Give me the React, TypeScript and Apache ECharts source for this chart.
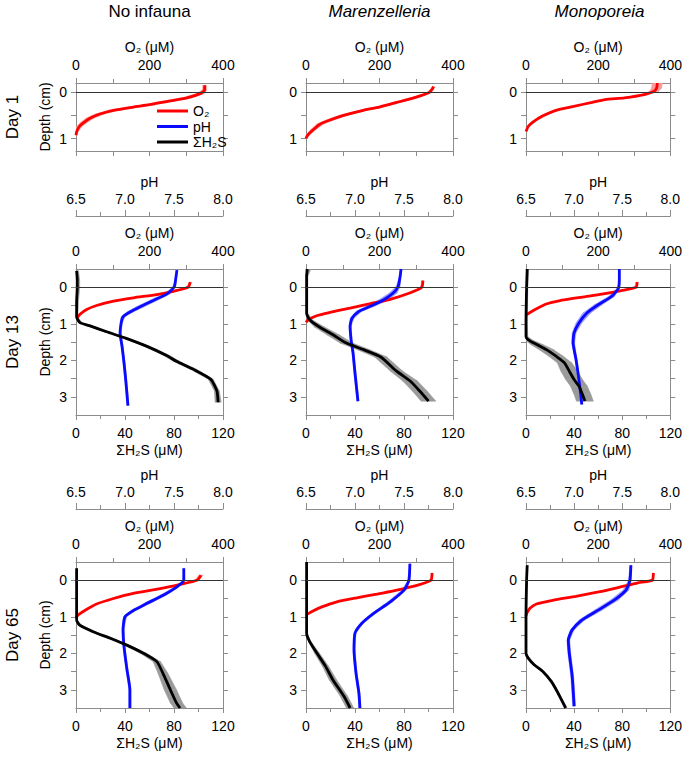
import React, { useEffect, useRef } from 'react';
import * as echarts from 'echarts';

// ---------- labels ----------
const columnTitles = ['No infauna', 'Marenzelleria', 'Monoporeia'];
const rowTitles = ['Day 1', 'Day 13', 'Day 65'];
const seriesNames = ['O₂', 'pH', 'ΣH₂S'];
const o2AxisName = 'O₂ (μM)';
const phAxisName = 'pH';
const h2sAxisName = 'ΣH₂S (μM)';
const depthAxisName = 'Depth (cm)';

// ---------- axis ranges / ticks ----------
const o2Range = [0, 400];
const phRange = [6.5, 8.0];
const h2sRange = [0, 120];
const depthRangeDay1 = [-0.2, 1.27];
const depthRangeLong = [-0.5, 3.5];
const depthTicksDay1 = [0, 0.5, 1];
const depthLabelsDay1 = [0, 1];
const depthTicksLong = [0, 0.5, 1, 1.5, 2, 2.5, 3];
const depthLabelsLong = [0, 1, 2, 3];

// ---------- profiles: [depth (cm), value, sd] ----------
// Day 1
const d1NoO2 = [[-0.15, 350, 5], [-0.05, 350, 6], [0.03, 338, 10], [0.12, 302, 13], [0.2, 247, 14], [0.27, 200, 14], [0.32, 156, 14], [0.39, 102, 13], [0.47, 65, 12], [0.56, 38, 11], [0.66, 20, 9], [0.74, 9, 7], [0.85, 2, 4], [0.93, 0, 2]];
const d1MarO2 = [[-0.12, 347, 4], [-0.06, 343, 4], [0.01, 334, 5], [0.1, 302, 8], [0.22, 247, 10], [0.32, 200, 10], [0.39, 156, 10], [0.5, 102, 10], [0.6, 65, 10], [0.69, 38, 9], [0.82, 18, 7], [0.93, 4, 5], [1.0, 0, 2]];
const d1MonO2 = [[-0.2, 364, 14], [-0.09, 362, 14], [-0.02, 355, 12], [0.05, 328, 9], [0.12, 273, 7], [0.16, 219, 7], [0.22, 183, 7], [0.31, 129, 7], [0.39, 83, 6], [0.51, 47, 6], [0.64, 20, 5], [0.74, 6, 3], [0.85, 0, 2]];

// Day 13
const d13NoO2 = [[-0.14, 311, 3], [0, 305, 4], [0.11, 265, 5], [0.2, 220, 5], [0.29, 156, 5], [0.38, 102, 5], [0.5, 56, 4], [0.61, 29, 4], [0.74, 11, 3], [0.86, 2, 2]];
const d13NoPH = [[-0.47, 7.53, 0.005], [-0.09, 7.51, 0.01], [0, 7.5, 0.015], [0.18, 7.43, 0.03], [0.36, 7.29, 0.04], [0.54, 7.15, 0.04], [0.68, 7.05, 0.03], [0.81, 6.98, 0.02], [0.99, 6.96, 0.01], [1.26, 6.95, 0.01], [1.62, 6.97, 0.01], [2.07, 6.99, 0.01], [2.61, 7.01, 0.01], [3.24, 7.03, 0.01]];
const d13NoH2S = [[-0.45, 0.5, 1.5], [-0.2, 1, 2], [0, 1, 2], [0.4, 0.5, 1.5], [0.81, 0.5, 1], [0.97, 3.3, 1.5], [1.06, 11.5, 2], [1.22, 25, 2], [1.4, 41, 2], [1.62, 58, 2], [1.87, 74, 2.5], [2.03, 82, 2.5], [2.25, 96, 2.5], [2.52, 110, 2], [2.84, 115, 2], [3.15, 116, 2.5]];
const d13MarO2 = [[-0.18, 318, 3], [0, 315, 3], [0.15, 284, 4], [0.33, 229, 4], [0.45, 175, 4], [0.57, 120, 4], [0.69, 65, 4], [0.78, 29, 3], [0.89, 6, 2], [0.96, 0, 1]];
const d13MarPH = [[-0.5, 7.47, 0.005], [-0.29, 7.46, 0.008], [-0.02, 7.44, 0.02], [0.16, 7.39, 0.04], [0.35, 7.29, 0.05], [0.53, 7.15, 0.04], [0.66, 7.04, 0.03], [0.85, 6.97, 0.02], [1.07, 6.95, 0.01], [1.44, 6.96, 0.01], [1.8, 6.98, 0.01], [2.35, 7.0, 0.01], [3.12, 7.03, 0.01]];
const d13MarH2S = [[-0.5, 1, 3], [-0.3, 0.5, 1], [0, 0.5, 1], [0.71, 0.5, 1], [0.89, 3, 2], [1.09, 11, 4], [1.3, 22, 5], [1.53, 33, 5], [1.71, 47, 5], [1.91, 61, 5], [2.3, 74, 5], [2.57, 85, 6], [2.85, 93, 6], [3.12, 100, 6]];
const d13MonO2 = [[-0.14, 308, 3], [0, 305, 3], [0.09, 264, 4], [0.19, 210, 4], [0.27, 156, 4], [0.37, 92, 4], [0.46, 56, 3], [0.59, 29, 3], [0.69, 11, 2], [0.75, 2, 1]];
const d13MonPH = [[-0.5, 7.47, 0.005], [-0.2, 7.47, 0.008], [0.03, 7.46, 0.01], [0.25, 7.39, 0.03], [0.48, 7.25, 0.04], [0.71, 7.13, 0.04], [0.98, 7.05, 0.03], [1.25, 7.0, 0.02], [1.53, 6.99, 0.015], [1.98, 7.02, 0.01], [2.53, 7.05, 0.01], [3.21, 7.08, 0.01]];
const d13MonH2S = [[-0.5, 1, 1], [0, 0.5, 1], [1.0, 0, 1], [1.35, 0, 1.5], [1.44, 2, 3], [1.57, 9, 5], [1.71, 17, 6], [1.89, 25, 6], [2.07, 32, 6], [2.3, 36, 7], [2.53, 40, 7], [2.71, 44, 7], [2.94, 47, 7], [3.12, 49, 7]];

// Day 65
const d65NoO2 = [[-0.14, 340, 6], [0, 329, 5], [0.11, 284, 4], [0.23, 229, 4], [0.36, 156, 4], [0.5, 102, 4], [0.65, 56, 3], [0.82, 25, 3], [0.95, 6, 2], [1.02, 0, 1]];
const d65NoPH = [[-0.33, 7.6, 0.005], [0, 7.6, 0.01], [0.18, 7.53, 0.02], [0.41, 7.39, 0.03], [0.64, 7.22, 0.03], [0.82, 7.09, 0.02], [1.0, 7.0, 0.015], [1.36, 6.98, 0.01], [1.82, 6.99, 0.01], [2.45, 7.02, 0.01], [3.0, 7.05, 0.01], [3.5, 7.05, 0.01]];
const d65NoH2S = [[-0.33, 0.5, 0.5], [0, 0.5, 0.5], [1.09, 0.5, 0.5], [1.23, 3, 1.5], [1.41, 14, 2], [1.59, 28, 2], [1.77, 41, 2], [2.0, 55, 2.5], [2.23, 66, 3], [2.55, 71, 4], [3.0, 77, 5], [3.36, 82, 5], [3.5, 85, 5]];
const d65MarO2 = [[-0.2, 343, 2], [0, 340, 2], [0.14, 302, 3], [0.27, 247, 3], [0.38, 193, 3], [0.48, 138, 3], [0.59, 84, 3], [0.73, 43, 3], [0.86, 15, 2], [0.95, 0, 1]];
const d65MarPH = [[-0.45, 7.56, 0.005], [0, 7.55, 0.01], [0.27, 7.5, 0.02], [0.59, 7.36, 0.025], [0.91, 7.19, 0.02], [1.18, 7.07, 0.015], [1.45, 7.0, 0.01], [1.9, 6.99, 0.01], [2.54, 7.01, 0.01], [3.09, 7.04, 0.01], [3.5, 7.05, 0.01]];
const d65MarH2S = [[-0.5, 0.5, 0.5], [0, 0.5, 0.5], [1.45, 0.5, 0.5], [1.68, 3, 1], [2.0, 9, 2], [2.36, 16, 2.5], [2.73, 22, 3], [3.18, 31, 3], [3.5, 36, 3]];
const d65MonO2 = [[-0.2, 353, 2], [0, 350, 2], [0.07, 310, 3], [0.2, 255, 3], [0.32, 201, 3], [0.44, 138, 3], [0.55, 74, 3], [0.65, 29, 3], [0.77, 11, 2], [0.91, 2, 1], [0.98, 0, 1]];
const d65MonPH = [[-0.41, 7.59, 0.01], [0, 7.58, 0.015], [0.27, 7.54, 0.03], [0.54, 7.42, 0.04], [0.82, 7.25, 0.04], [1.09, 7.08, 0.03], [1.36, 6.98, 0.02], [1.64, 6.94, 0.015], [2.0, 6.95, 0.015], [2.63, 6.98, 0.015], [3.45, 7.0, 0.015]];
const d65MonH2S = [[-0.41, 1, 0.5], [0, 0.5, 0.5], [1.0, 0, 0.5], [2.0, 0, 0.5], [2.14, 2, 1], [2.32, 7, 1], [2.5, 14, 1], [2.77, 21, 1], [3.05, 26, 1], [3.5, 33, 1]];

const panelData = [
  [{ o2: d1NoO2 }, { o2: d1MarO2 }, { o2: d1MonO2 }],
  [{ o2: d13NoO2, ph: d13NoPH, h2s: d13NoH2S }, { o2: d13MarO2, ph: d13MarPH, h2s: d13MarH2S }, { o2: d13MonO2, ph: d13MonPH, h2s: d13MonH2S }],
  [{ o2: d65NoO2, ph: d65NoPH, h2s: d65NoH2S }, { o2: d65MarO2, ph: d65MarPH, h2s: d65MarH2S }, { o2: d65MonO2, ph: d65MonPH, h2s: d65MonH2S }],
];

// ---------- layout / style ----------
const FONT = '"Liberation Sans", Arial, Helvetica, sans-serif';
const gridLeft = [76, 306, 526];
const gridTop = [83, 269, 562];
const gridHeight = [68, 146, 146];
const plotWidth = 147;
const AXIS_GRAY = '#8c8c8c';
const RED = '#ff0000';
const BLUE = '#0a0aff';
const BLACK = '#000000';
const RED_BAND = '#ff9a9a';
const BLUE_BAND = '#9a9aff';
const GRAY_BAND = '#9a9a9a';

const tickFont = { color: '#000', fontSize: 14, fontFamily: FONT };
const nameFont = { color: '#000', fontSize: 14, fontFamily: FONT };

function bandSeries(prof: number[][], xIdx: number, yIdx: number, fill: string) {
  return {
    type: 'custom',
    name: 'band',
    xAxisIndex: xIdx,
    yAxisIndex: yIdx,
    silent: true,
    clip: true,
    z: 1,
    data: prof.map((p) => [p[1], p[0], p[2]]),
    encode: { x: 0, y: 1 },
    renderItem: (params: any, api: any) => {
      const i = params.dataIndex;
      if (i >= prof.length - 1) return null;
      const a = prof[i];
      const b = prof[i + 1];
      const pts = [
        api.coord([a[1] - a[2], a[0]]),
        api.coord([b[1] - b[2], b[0]]),
        api.coord([b[1] + b[2], b[0]]),
        api.coord([a[1] + a[2], a[0]]),
      ];
      return { type: 'polygon', shape: { points: pts }, style: { fill, stroke: fill, lineWidth: 0.6 } };
    },
  };
}

function lineSeries(name: string, prof: number[][], xIdx: number, yIdx: number, color: string, zeroLine: boolean) {
  const s: any = {
    type: 'line',
    name,
    xAxisIndex: xIdx,
    yAxisIndex: yIdx,
    data: prof.map((p) => [p[1], p[0]]),
    showSymbol: false,
    symbol: 'none',
    smooth: 0.2,
    silent: true,
    z: 3,
    lineStyle: { width: 2.8, color },
    itemStyle: { color },
  };
  if (zeroLine) {
    s.markLine = {
      silent: true,
      symbol: 'none',
      label: { show: false },
      lineStyle: { color: '#333', width: 1, type: 'solid' },
      data: [{ yAxis: 0 }],
    };
  }
  return s;
}

function buildOption() {
  const grid: any[] = [];
  const xAxis: any[] = [];
  const yAxis: any[] = [];
  const series: any[] = [];

  panelData.forEach((row, r) => {
    row.forEach((p: any, c) => {
      const g = grid.length;
      grid.push({ left: gridLeft[c], top: gridTop[r], width: plotWidth, height: gridHeight[r] });

      const axisLine = { show: true, onZero: false, lineStyle: { color: AXIS_GRAY, width: 1 } };
      const tickStyle = { color: AXIS_GRAY, width: 1 };

      const xO2 = xAxis.length;
      xAxis.push({
        type: 'value', gridIndex: g, position: 'top', min: o2Range[0], max: o2Range[1], interval: 200,
        axisLine, axisTick: { show: true, length: 5, lineStyle: tickStyle },
        minorTick: { show: true, splitNumber: 2, length: 4, lineStyle: tickStyle },
        splitLine: { show: false }, minorSplitLine: { show: false },
        axisLabel: { ...tickFont, margin: 11 },
        name: o2AxisName, nameLocation: 'middle', nameGap: 29, nameTextStyle: nameFont,
      });

      let xPH = -1;
      let xH2S = -1;
      if (p.ph) {
        xPH = xAxis.length;
        xAxis.push({
          type: 'value', gridIndex: g, position: 'top', offset: 53, min: phRange[0], max: phRange[1], interval: 0.5,
          axisLine, axisTick: { show: true, length: 6, lineStyle: tickStyle },
          minorTick: { show: true, splitNumber: 2, length: 4, lineStyle: tickStyle },
          splitLine: { show: false }, minorSplitLine: { show: false },
          axisLabel: { ...tickFont, margin: 10, formatter: (v: number) => v.toFixed(1) },
          name: phAxisName, nameLocation: 'middle', nameGap: 27, nameTextStyle: nameFont,
        });
      }
      if (p.h2s) {
        xH2S = xAxis.length;
        xAxis.push({
          type: 'value', gridIndex: g, position: 'bottom', min: h2sRange[0], max: h2sRange[1], interval: 40,
          axisLine, axisTick: { show: true, length: 5, lineStyle: tickStyle },
          minorTick: { show: true, splitNumber: 2, length: 4, lineStyle: tickStyle },
          splitLine: { show: false }, minorSplitLine: { show: false },
          axisLabel: { ...tickFont, margin: 11 },
          name: h2sAxisName, nameLocation: 'middle', nameGap: 28, nameTextStyle: nameFont,
        });
      } else {
        xAxis.push({
          type: 'value', gridIndex: g, position: 'bottom', min: o2Range[0], max: o2Range[1], interval: 100,
          axisLine, axisTick: { show: true, length: 5, lineStyle: tickStyle },
          splitLine: { show: false }, axisLabel: { show: false },
        });
      }

      const dr = r === 0 ? depthRangeDay1 : depthRangeLong;
      const dTicks = r === 0 ? depthTicksDay1 : depthTicksLong;
      const dLabels = r === 0 ? depthLabelsDay1 : depthLabelsLong;
      const yL = yAxis.length;
      yAxis.push({
        type: 'value', gridIndex: g, position: 'left', inverse: true, min: dr[0], max: dr[1],
        axisLine, axisTick: { show: true, length: 5, customValues: dTicks, lineStyle: tickStyle },
        axisLabel: { ...tickFont, margin: 9, customValues: dLabels },
        splitLine: { show: false },
        name: c === 0 ? depthAxisName : '', nameLocation: 'middle', nameGap: 24, nameTextStyle: nameFont,
      });
      yAxis.push({
        type: 'value', gridIndex: g, position: 'right', inverse: true, min: dr[0], max: dr[1],
        axisLine, axisTick: { show: true, length: 5, customValues: dTicks, lineStyle: tickStyle },
        axisLabel: { show: false }, splitLine: { show: false },
      });

      // bands first
      if (p.h2s) series.push(bandSeries(p.h2s, xH2S, yL, GRAY_BAND));
      if (p.ph) series.push(bandSeries(p.ph, xPH, yL, BLUE_BAND));
      series.push(bandSeries(p.o2, xO2, yL, RED_BAND));
      // lines
      series.push(lineSeries(seriesNames[0], p.o2, xO2, yL, RED, true));
      if (p.ph) series.push(lineSeries(seriesNames[1], p.ph, xPH, yL, BLUE, false));
      if (p.h2s) series.push(lineSeries(seriesNames[2], p.h2s, xH2S, yL, BLACK, false));
    });
  });

  const graphic: any[] = [];
  columnTitles.forEach((t, i) => {
    graphic.push({
      type: 'text', x: gridLeft[i] + plotWidth / 2, y: 11, silent: true,
      style: {
        text: t, fill: '#000', font: `${i > 0 ? 'italic ' : ''}17px ${FONT}`,
        align: 'center', verticalAlign: 'middle', textAlign: 'center', textVerticalAlign: 'middle',
      },
    });
  });
  rowTitles.forEach((t, i) => {
    graphic.push({
      type: 'text', x: 12, y: gridTop[i] + gridHeight[i] / 2, rotation: Math.PI / 2, silent: true,
      style: {
        text: t, fill: '#000', font: `17px ${FONT}`,
        align: 'center', verticalAlign: 'middle', textAlign: 'center', textVerticalAlign: 'middle',
      },
    });
  });

  return {
    animation: false,
    backgroundColor: '#ffffff',
    textStyle: { fontFamily: FONT },
    grid,
    xAxis,
    yAxis,
    series,
    graphic,
    legend: {
      data: seriesNames,
      orient: 'vertical',
      left: 157,
      top: 104,
      icon: 'rect',
      itemWidth: 31,
      itemHeight: 3,
      itemGap: 1.5,
      selectedMode: false,
      padding: 0,
      textStyle: { color: '#000', fontSize: 14, fontFamily: FONT, lineHeight: 14 },
    },
  };
}

export default function App() {
  const ref = useRef<HTMLDivElement>(null);
  useEffect(() => {
    if (!ref.current) return;
    const chart = echarts.init(ref.current, null, { renderer: 'svg' });
    chart.setOption(buildOption() as any);
    return () => chart.dispose();
  }, []);
  return (
    <div
      ref={ref}
      style={{ position: 'fixed', left: 0, top: 0, width: 685, height: 757, background: '#fff' }}
    />
  );
}
